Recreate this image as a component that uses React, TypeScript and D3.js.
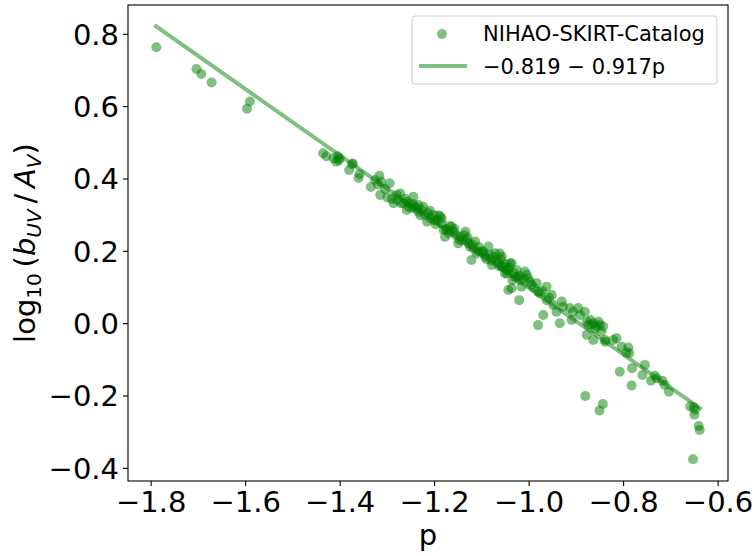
import React from "react";
import * as d3 from "d3";

const pValues: number[] = [
  -1.789, -1.704, -1.694, -1.672, -1.591, -1.597,
  -1.436, -1.429, -1.414, -1.405, -1.401, -1.408, -1.403, -1.373, -1.375, -1.381, -1.359, -1.361,
  -1.335, -1.326, -1.317, -1.313, -1.315, -1.295, -1.300, -1.287, -1.280, -1.273, -1.271, -1.259,
  -1.255, -1.259, -1.245, -1.241, -1.234,
  -1.266, -1.252, -1.234, -1.224, -1.216, -1.213, -1.202, -1.195, -1.188, -1.185, -1.181, -1.178,
  -1.164, -1.160, -1.150, -1.146, -1.135, -1.132, -1.125, -1.122, -1.114, -1.111, -1.100, -1.093,
  -1.086, -1.083, -1.079, -1.069, -1.062, -1.058, -1.047, -1.037, -1.026, -1.051,
  -1.228, -1.220, -1.208, -1.198, -1.192, -1.176, -1.170, -1.168, -1.155, -1.142, -1.138, -1.128,
  -1.118, -1.106, -1.097, -1.090, -1.075, -1.066, -1.060, -1.050, -1.042, -1.032, -1.020, -1.012,
  -1.290, -1.262, -1.248, -1.238, -1.320, -1.305, -1.280,
  -1.245, -1.230, -1.210, -1.200, -1.185, -1.172, -1.158, -1.148, -1.130, -1.120, -1.108, -1.095,
  -1.080, -1.072, -1.064, -1.045, -1.035, -1.025, -1.002, -0.995,
  -1.058, -1.055, -1.040, -1.047, -1.030, -1.009, -1.005, -1.019, -1.016, -1.044, -1.037, -1.021,
  -0.998, -0.984, -0.981, -0.977, -0.963, -0.963, -0.952, -0.970, -0.981, -0.949, -0.942, -0.931,
  -0.928, -0.935, -0.914, -0.910, -0.907, -0.896, -0.892, -0.882, -0.878, -0.875, -0.864, -0.857,
  -0.850, -0.843, -0.878, -0.864, -0.839, -0.822, -0.815,
  -0.990, -0.972, -0.958, -0.870, -0.860, -0.853, -0.868,
  -0.847, -0.839, -0.804, -0.790, -0.794, -0.788, -0.808, -0.782, -0.783, -0.760, -0.755, -0.742,
  -0.734, -0.730, -0.718, -0.713, -0.704, -0.659, -0.651, -0.649, -0.650, -0.641, -0.639, -0.653,
  -0.881, -0.844, -0.851,
];

const logValues: number[] = [
  0.764, 0.704, 0.690, 0.667, 0.614, 0.594,
  0.471, 0.463, 0.457, 0.463, 0.457, 0.448, 0.452, 0.443, 0.441, 0.425, 0.413, 0.403,
  0.378, 0.397, 0.409, 0.392, 0.356, 0.388, 0.349, 0.333, 0.356, 0.360, 0.333, 0.337,
  0.323, 0.314, 0.351, 0.323, 0.309,
  0.333, 0.333, 0.328, 0.323, 0.282, 0.305, 0.300, 0.286, 0.296, 0.277, 0.259, 0.240,
  0.268, 0.254, 0.222, 0.240, 0.254, 0.231, 0.213, 0.176, 0.227, 0.194, 0.199, 0.185,
  0.213, 0.190, 0.162, 0.176, 0.194, 0.157, 0.148, 0.167, 0.148, 0.139,
  0.315, 0.300, 0.290, 0.275, 0.300, 0.262, 0.250, 0.270, 0.245, 0.230, 0.245, 0.222,
  0.208, 0.212, 0.200, 0.178, 0.185, 0.170, 0.178, 0.165, 0.155, 0.140, 0.132, 0.125,
  0.345, 0.345, 0.320, 0.318, 0.385, 0.372, 0.342,
  0.330, 0.300, 0.312, 0.285, 0.290, 0.258, 0.262, 0.232, 0.238, 0.218, 0.200, 0.192,
  0.175, 0.195, 0.160, 0.150, 0.120, 0.128, 0.125, 0.108,
  0.185, 0.157, 0.167, 0.139, 0.130, 0.144, 0.135, 0.121, 0.102, 0.093, 0.098, 0.065,
  0.116, 0.112, 0.088, 0.084, 0.102, 0.065, 0.079, 0.024, -0.004, 0.052, 0.033, 0.061,
  0.047, 0.001, 0.043, 0.010, 0.033, 0.043, 0.024, 0.033, 0.006, -0.004, 0.001, -0.008,
  -0.004, -0.008, -0.031, -0.045, -0.045, -0.045, -0.040,
  0.100, 0.090, 0.072, 0.010, -0.015, 0.005, -0.002,
  -0.022, -0.050, -0.064, -0.066, -0.080, -0.082, -0.133, -0.123, -0.171, -0.142, -0.114, -0.158,
  -0.144, -0.151, -0.158, -0.169, -0.188, -0.229, -0.231, -0.238, -0.252, -0.283, -0.294, -0.375,
  -0.200, -0.222, -0.240,
];

const fitIntercept = -0.819;
const fitSlope = -0.917;
const fitRange: number[] = [-1.793, -0.635];
const xTicks: number[] = [-1.8, -1.6, -1.4, -1.2, -1.0, -0.8, -0.6];
const yTicks: number[] = [-0.4, -0.2, 0.0, 0.2, 0.4, 0.6, 0.8];
const seriesLabel = "NIHAO-SKIRT-Catalog";
const fitLabel = "\u22120.819 \u2212 0.917p";

const W = 756;
const H = 556;
const left = 128;
const right = 728;
const top = 5;
const bottom = 481;
const font = "DejaVu Sans";
const green = "#008000";

const fmt = (v: number) => {
  const s = Math.abs(v).toFixed(1);
  return v < -1e-9 ? "\u2212" + s : s;
};

export default function App() {
  const x = d3.scaleLinear().domain([-1.849, -0.579]).range([left, right]);
  const y = d3.scaleLinear().domain([-0.435, 0.881]).range([bottom, top]);
  const line = d3
    .line<number>()
    .x((d) => x(d))
    .y((d) => y(fitIntercept + fitSlope * d));

  return (
    <svg
      width={W}
      height={H}
      style={{ position: "absolute", left: 0, top: 0, background: "white" }}
      fontFamily={font}
    >
      <rect x={0} y={0} width={W} height={H} fill="white" />
      <defs>
        <clipPath id="plotclip">
          <rect x={left} y={top} width={right - left} height={bottom - top} />
        </clipPath>
      </defs>
      <g clipPath="url(#plotclip)">
        {pValues.map((p, i) => (
          <circle key={i} cx={x(p)} cy={y(logValues[i])} r={5} fill={green} fillOpacity={0.5} />
        ))}
        <path d={line(fitRange) || ""} stroke={green} strokeOpacity={0.5} strokeWidth={4} fill="none" />
      </g>
      <rect x={left} y={top} width={right - left} height={bottom - top} fill="none" stroke="#000" strokeWidth={1.1} />
      {xTicks.map((t) => (
        <g key={"x" + t}>
          <line x1={x(t)} x2={x(t)} y1={bottom} y2={bottom + 5} stroke="#000" strokeWidth={1.1} />
          <text x={x(t)} y={bottom + 31} textAnchor="middle" fontSize={29}>
            {fmt(t)}
          </text>
        </g>
      ))}
      {yTicks.map((t) => (
        <g key={"y" + t}>
          <line x1={left - 5} x2={left} y1={y(t)} y2={y(t)} stroke="#000" strokeWidth={1.1} />
          <text x={left - 9} y={y(t)} dy="0.36em" textAnchor="end" fontSize={29}>
            {fmt(t)}
          </text>
        </g>
      ))}
      <text x={(left + right) / 2} y={545} textAnchor="middle" fontSize={29}>
        p
      </text>
      <text transform={`translate(35,${(top + bottom) / 2}) rotate(-90)`} textAnchor="middle" fontSize={29}>
        <tspan>log</tspan>
        <tspan fontSize={20} dy={6}>10</tspan>
        <tspan dy={-6}>{"\u2009("}</tspan>
        <tspan fontStyle="italic">b</tspan>
        <tspan fontStyle="italic" fontSize={20} dy={6}>UV</tspan>
        <tspan dy={-6}>{"\u2009/\u2009"}</tspan>
        <tspan fontStyle="italic">A</tspan>
        <tspan fontStyle="italic" fontSize={20} dy={6}>V</tspan>
        <tspan dy={-6}>)</tspan>
      </text>
      <g>
        <rect x={412} y={16} width={305} height={68} rx={3} fill="white" fillOpacity={0.8} stroke="#cccccc" strokeWidth={1} />
        <circle cx={442} cy={34} r={5} fill={green} fillOpacity={0.5} />
        <text x={483} y={41} fontSize={21}>
          {seriesLabel}
        </text>
        <line x1={419} x2={467} y1={66} y2={66} stroke={green} strokeOpacity={0.5} strokeWidth={4} />
        <text x={483} y={74} fontSize={21}>
          {fitLabel}
        </text>
      </g>
    </svg>
  );
}
